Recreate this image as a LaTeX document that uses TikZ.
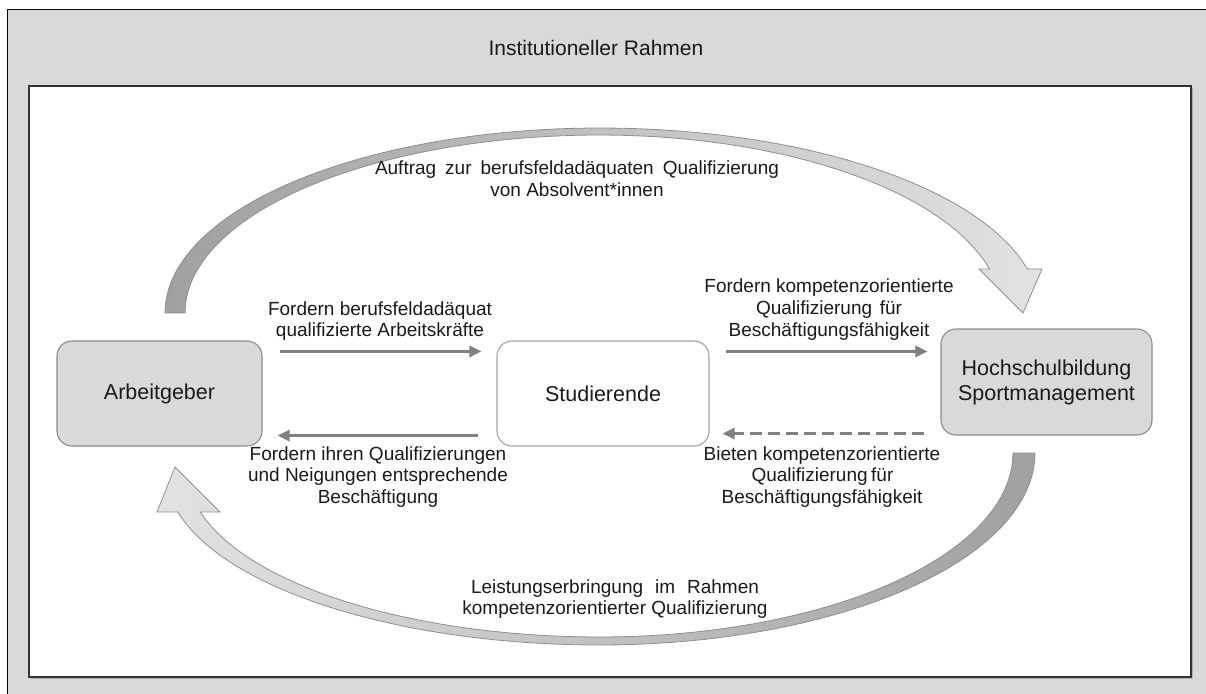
\documentclass[tikz,border=0pt]{standalone}
\usepackage{fontspec}
\setmainfont{Liberation Sans}
\usetikzlibrary{arrows.meta}
\definecolor{framegray}{HTML}{D9D9D9}
\definecolor{boxfill}{HTML}{D9D9D9}
\definecolor{boxline}{HTML}{8C8C8C}
\definecolor{flowgray}{HTML}{808080}
\definecolor{edgegray}{HTML}{8F8F8F}
\definecolor{darkshade}{HTML}{A0A0A0}
\definecolor{lightshade}{HTML}{E2E2E2}
\definecolor{txt}{HTML}{1A1A1A}
\newcommand{\mynodefont}{\fontsize{21.5}{25}\selectfont}
\newcommand{\mylabelfont}{\fontsize{19}{21.8}\selectfont}
% a line of text spread out to a given width
\newcommand{\spread}[2]{\makebox[#1][s]{#2}}
\begin{document}
\begin{tikzpicture}[x=1pt,y=-1pt,
  box/.style={draw=boxline, line width=1.1pt, rounded corners=15pt,
    font=\mynodefont, align=center, text=txt, inner sep=0pt},
  lbl/.style={font=\mylabelfont, align=center, text=txt, inner sep=0pt},
  flow/.style={draw=flowgray, line width=3.4pt,
    -{Triangle[length=12pt,width=11pt]}},
  bigarrow/.style={draw=edgegray, line width=0.8pt}]

\useasboundingbox (0,0) rectangle (1206,693);

% outer frame and inner field
\fill[white] (0,0) rectangle (1206,693);
\fill[framegray] (7.5,9.5) rectangle (1215,705);
\draw[black, line width=1.4pt] (7.5,705) -- (7.5,9.5) -- (1215,9.5);
\fill[white] (29,86) rectangle (1191,677);
\draw[gray!60, line width=1.2pt] (30.5,678.5) -- (1192.5,678.5) -- (1192.5,87.5);
\draw[black!80, line width=1.2pt] (29,86) rectangle (1191,677);

\node[font=\fontsize{21}{25}\selectfont, text=txt] (title) at (596,48) {Institutioneller Rahmen};

% upper curved arrow (Arbeitgeber -> Hochschule)
\path[bigarrow, left color=darkshade, right color=lightshade]
  (165,313)
  -- plot[domain=180:270, samples=50] ({600+435*cos(\x)},{313+185*sin(\x)})
  -- plot[domain=270:346.2, samples=30] ({600+440*cos(\x)},{313+185*sin(\x)})
  -- (1042,269) -- (1023,313) -- (979,269)
  -- plot[domain=345.7:270, samples=30] ({600+402*cos(\x)},{313+178*sin(\x)})
  -- plot[domain=270:180, samples=50] ({600+415*cos(\x)},{313+178*sin(\x)})
  -- cycle;

% lower curved arrow (Hochschule -> Arbeitgeber)
\path[bigarrow, left color=lightshade, right color=darkshade]
  (1035,453)
  -- plot[domain=0:90, samples=40] ({600+435*cos(\x)},{453+192*sin(\x)})
  -- plot[domain=90:166.1, samples=40] ({600+435*cos(\x)},{470+175*sin(\x)})
  -- (157,512) -- (175,467) -- (220,512)
  -- plot[domain=165.4:90, samples=40] ({600+413*cos(\x)},{470+167*sin(\x)})
  -- plot[domain=90:0, samples=40] ({600+413*cos(\x)},{453+184*sin(\x)})
  -- cycle;

% actors
\node[box, fill=boxfill, minimum width=205pt, minimum height=105pt] (arb) at (159.5,393.5) {Arbeitgeber};
\node[box, fill=white, draw=boxline!80, minimum width=212pt, minimum height=105pt] (stud) at (603,393.5) {Studierende};
\node[box, fill=boxfill, minimum width=211pt, minimum height=106pt] (hoch) at (1046.5,382) {Hochschulbildung\\Sportmanagement};

% exchanges between the actors
\draw[flow] ([shift={(17,11)}]arb.north east) -- ([shift={(-15,11)}]stud.north west);
\draw[flow] ([shift={(-18,-11)}]stud.south west) -- ([shift={(15,-11)}]arb.south east);
\draw[flow] ([shift={(16,11)}]stud.north east) -- ([shift={(-13,23)}]hoch.north west);
\draw[flow, dash pattern=on 12pt off 6pt] ([shift={(-16,-2)}]hoch.south west) -- ([shift={(13,-13)}]stud.south east);

% labels
\node[lbl] (l1) at (577,179) {\spread{404pt}{Auftrag zur berufsfeldadäquaten Qualifizierung}\\von Absolvent*innen};
\node[lbl] (l2) at (380,321) {Fordern berufsfeldadäquat\\qualifizierte Arbeitskräfte};
\node[lbl] (l3) at (829,309.5) {Fordern kompetenzorientierte\\\spread{146pt}{Qualifizierung für}\\Beschäftigungsfähigkeit};
\node[lbl] (l4) at (378,477) {Fordern ihren Qualifizierungen\\und Neigungen entsprechende\\Beschäftigung};
\node[lbl] (l5) at (822,477) {Bieten kompetenzorientierte\\\spread{141pt}{Qualifizierung für}\\Beschäftigungsfähigkeit};
\node[lbl] (l6) at (615,599) {\spread{288pt}{Leistungserbringung im Rahmen}\\kompetenzorientierter Qualifizierung};
\end{tikzpicture}
\end{document}
